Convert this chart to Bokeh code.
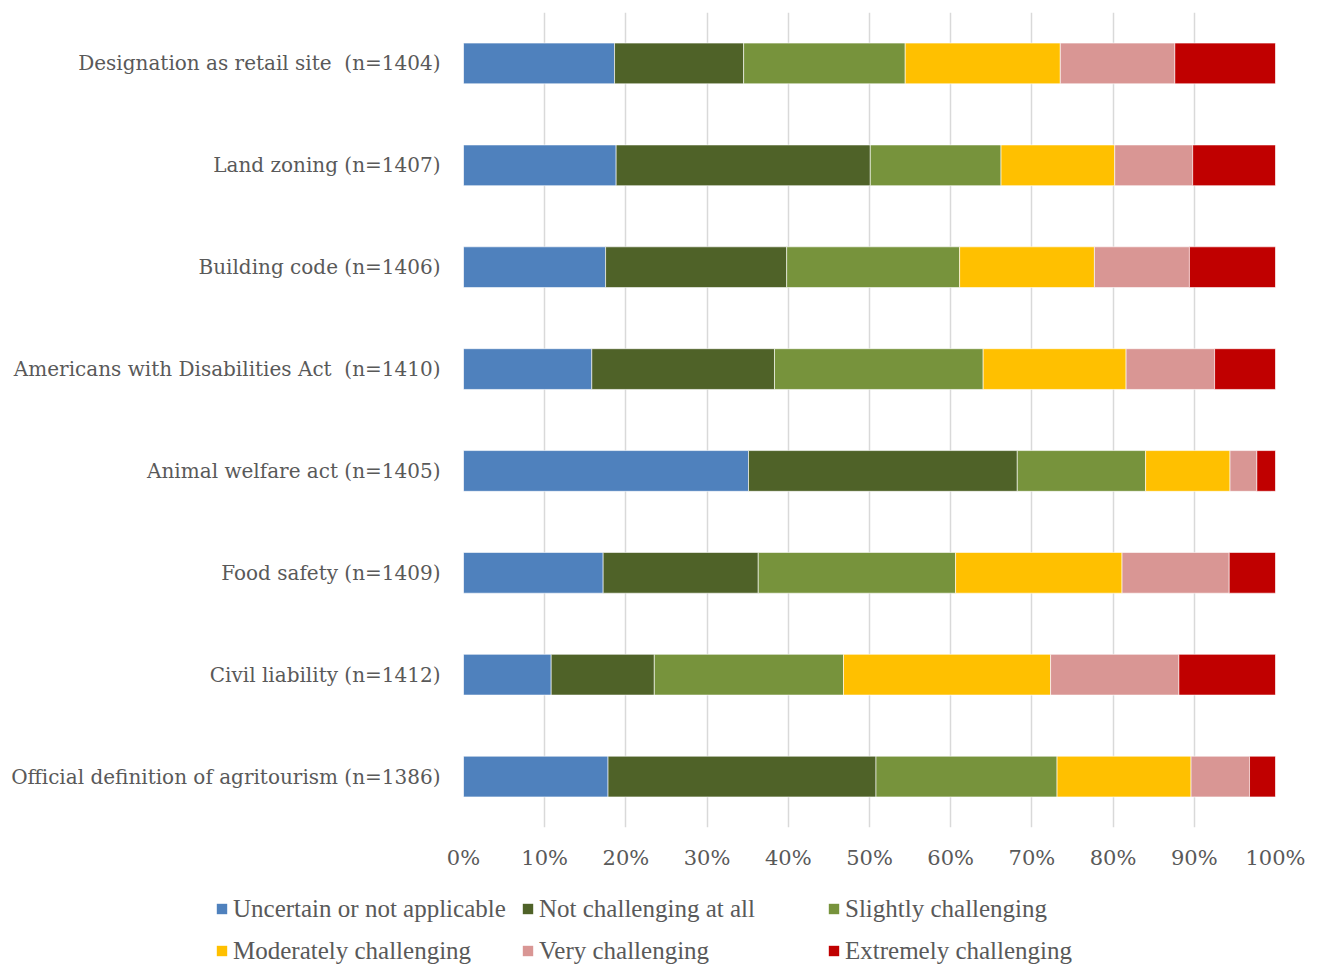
from bokeh.plotting import figure
from bokeh.models import FactorRange, Range1d, Legend, LegendItem, FixedTicker, PrintfTickFormatter, ColumnDataSource
from bokeh.embed import file_html
from bokeh.resources import INLINE

categories = [
    "Designation as retail site \u00a0(n=1404)",
    "Land zoning (n=1407)",
    "Building code (n=1406)",
    "Americans with Disabilities Act \u00a0(n=1410)",
    "Animal welfare act (n=1405)",
    "Food safety (n=1409)",
    "Civil liability (n=1412)",
    "Official definition of agritourism (n=1386)",
]
uncertain = [18.6, 18.8, 17.5, 15.8, 35.1, 17.2, 10.8, 17.8]
not_challenging = [15.9, 31.3, 22.3, 22.5, 33.1, 19.1, 12.7, 33.0]
slightly = [19.9, 16.1, 21.3, 25.7, 15.8, 24.3, 23.3, 22.3]
moderately = [19.1, 14.0, 16.6, 17.6, 10.4, 20.5, 25.5, 16.5]
very = [14.1, 9.6, 11.7, 10.9, 3.3, 13.2, 15.8, 7.2]
extremely = [12.4, 10.2, 10.6, 7.5, 2.3, 5.7, 11.9, 3.2]

series_names = [
    "Uncertain or not applicable",
    "Not challenging at all",
    "Slightly challenging",
    "Moderately challenging",
    "Very challenging",
    "Extremely challenging",
]
colors = ["#4F81BD", "#4F6228", "#77933C", "#FFC000", "#D99694", "#C00000"]
tick_values = [0, 10, 20, 30, 40, 50, 60, 70, 80, 90, 100]

keys = ["s0", "s1", "s2", "s3", "s4", "s5"]
source = ColumnDataSource(dict(
    cat=categories,
    s0=uncertain, s1=not_challenging, s2=slightly,
    s3=moderately, s4=very, s5=extremely,
))

FONT = "DejaVu Serif"
LFONT = "Liberation Serif"
TXT = "#595959"

p = figure(width=1308, height=880,
           y_range=FactorRange(*list(reversed(categories))),
           x_range=Range1d(0, 100),
           output_backend="svg", toolbar_location=None,
           min_border_left=463, min_border_right=33,
           min_border_top=12, min_border_bottom=53)

renderers = p.hbar_stack(keys, y="cat", height=0.4, color=colors, source=source,
                         line_color="white", line_width=0.6)

p.outline_line_color = None
p.ygrid.visible = False
p.xgrid.grid_line_color = "#D9D9D9"
p.xgrid.grid_line_width = 1.5

p.xaxis.ticker = FixedTicker(ticks=tick_values)
p.xaxis.formatter = PrintfTickFormatter(format="%d%%")
p.xaxis.axis_line_color = None
p.xaxis.major_tick_line_color = None
p.xaxis.minor_tick_line_color = None
p.xaxis.major_label_standoff = 12
p.xaxis.major_label_text_font = FONT
p.xaxis.major_label_text_font_size = "21px"
p.xaxis.major_label_text_color = TXT

p.yaxis.axis_line_color = None
p.yaxis.major_tick_line_color = None
p.yaxis.minor_tick_line_color = None
p.yaxis.major_label_standoff = 17
p.yaxis.major_label_text_font = FONT
p.yaxis.major_label_text_font_size = "20px"
p.yaxis.major_label_text_color = TXT

# legend figure underneath (separate root so its frame spans the full width)
p2 = figure(width=1308, height=84, x_range=Range1d(0, 1), y_range=Range1d(0, 1),
            output_backend="svg", toolbar_location=None, min_border=0)
p2.axis.visible = False
p2.grid.visible = False
p2.outline_line_color = None
# placeholder renderers (outside the visible range) that only supply legend swatches
dummies = [p2.rect(x=[-5], y=[-5], width=0.1, height=0.1, fill_color=c, line_color=None) for c in colors]

legend = Legend(
    items=[LegendItem(label=n, renderers=[r]) for n, r in zip(series_names, dummies)],
    location=(215, -6), orientation="horizontal", ncols=3,
    glyph_width=13, glyph_height=13, label_standoff=5, label_width=285,
    label_height=39, spacing=3, padding=0, margin=0,
    label_text_font=LFONT, label_text_font_size="25px", label_text_color=TXT,
    border_line_color=None, background_fill_alpha=0,
)
p2.add_layout(legend)

open("out.html", "w").write(file_html([p, p2], INLINE))
